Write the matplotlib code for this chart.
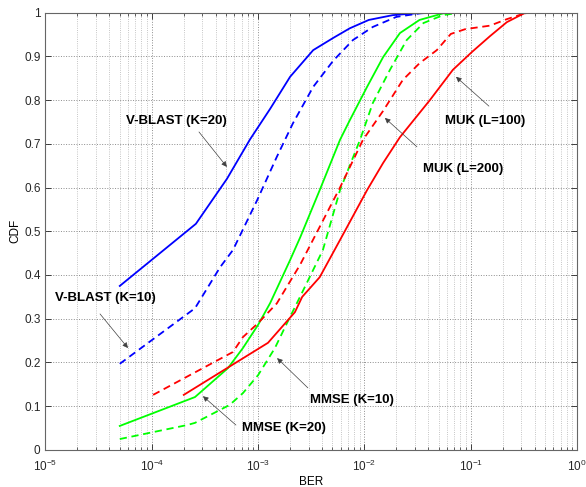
import numpy as np
import matplotlib
matplotlib.use("Agg")
import matplotlib.pyplot as plt
from matplotlib.ticker import LogLocator, NullFormatter, FixedLocator

plt.rcParams['font.family'] = ['Liberation Sans', 'DejaVu Sans']

# CDF curves of the BER (read per detector)
vblast20_ber = [5e-5, 2.6e-4, 5.1e-4, 8.4e-4, 1.3e-3, 2.0e-3, 3.3e-3, 5.1e-3,
                7.3e-3, 1.1e-2, 1.85e-2, 3e-2, 4.5e-2]
vblast20_cdf = [0.375, 0.517, 0.62, 0.71, 0.78, 0.853, 0.914, 0.942,
                0.964, 0.983, 0.994, 0.998, 1.0]

vblast10_ber = [5e-5, 2.55e-4, 4.4e-4, 5.8e-4, 9.8e-4, 1.5e-3, 2.13e-3, 3.3e-3,
                5.1e-3, 7.8e-3, 1.2e-2, 2e-2, 3.3e-2, 4.5e-2]
vblast10_cdf = [0.197, 0.324, 0.418, 0.457, 0.571, 0.67, 0.747, 0.83,
                0.89, 0.937, 0.967, 0.99, 0.998, 1.0]

mmse20_ber = [5e-5, 2.55e-4, 5.2e-4, 7.2e-4, 1e-3, 1.3e-3, 2.0e-3, 2.5e-3,
              3.8e-3, 5.9e-3, 7.3e-3, 1.06e-2, 1.5e-2, 2.16e-2, 3.3e-2, 5.5e-2, 7.9e-2]
mmse20_cdf = [0.055, 0.121, 0.187, 0.233, 0.286, 0.336, 0.434, 0.487,
              0.594, 0.709, 0.754, 0.83, 0.898, 0.953, 0.983, 0.998, 1.0]

mmse10_ber = [5e-5, 2.15e-4, 2.55e-4, 5.4e-4, 7.2e-4, 1e-3, 1.44e-3, 1.87e-3,
              2.48e-3, 4.07e-3, 5.9e-3, 9.1e-3, 1.2e-2, 1.74e-2,
              2.5e-2, 3.6e-2, 5.5e-2, 7.9e-2]
mmse10_cdf = [0.025, 0.057, 0.062, 0.103, 0.13, 0.171, 0.233, 0.29,
              0.35, 0.457, 0.594, 0.709, 0.793, 0.869,
              0.937, 0.976, 0.994, 1.0]

muk100_ber = [2e-4, 1.24e-3, 2.22e-3, 2.6e-3, 3.8e-3, 5.9e-3, 1.06e-2, 1.5e-2,
              2.16e-2, 4.14e-2, 6.8e-2, 0.103, 0.152, 0.219, 0.317, 0.38]
muk100_cdf = [0.126, 0.245, 0.315, 0.35, 0.395, 0.48, 0.594, 0.656,
              0.715, 0.80, 0.869, 0.91, 0.946, 0.978, 0.998, 1.0]

muk200_ber = [1.03e-4, 5.8e-4, 7.2e-4, 1e-3, 1.5e-3, 2.48e-3, 3.8e-3, 5.9e-3,
              9.7e-3, 1.5e-2, 2.3e-2, 3.3e-2, 4.8e-2, 6.5e-2, 8.9e-2,
              0.152, 0.22, 0.32, 0.38]
muk200_cdf = [0.126, 0.224, 0.258, 0.29, 0.335, 0.423, 0.51, 0.60,
              0.709, 0.775, 0.846, 0.884, 0.914, 0.951, 0.962,
              0.97, 0.985, 0.998, 1.0]

# label text, text position, arrow tail, arrow tip
labels = [
    ("V-BLAST (K=20)", (1.69e-4, 0.752), (2.78e-4, 0.727), (5.09e-4, 0.647)),
    ("V-BLAST (K=10)", (3.63e-5, 0.347), (3.26e-5, 0.311), (5.97e-5, 0.233)),
    ("MMSE (K=20)", (1.75e-3, 0.05), (6.19e-4, 0.057), (3.03e-4, 0.123)),
    ("MMSE (K=10)", (7.64e-3, 0.114), (2.94e-3, 0.142), (1.51e-3, 0.21)),
    ("MUK (L=100)", (0.136, 0.752), (0.1485, 0.786), (7.28e-2, 0.853)),
    ("MUK (L=200)", (8.45e-2, 0.642), (3.12e-2, 0.693), (1.56e-2, 0.759)),
]

fig = plt.figure(figsize=(5.86, 4.87), dpi=100)
ax = fig.add_axes([0.0776, 0.076, 0.9070, 0.8983])

lw = 1.3
dash = (4.0, 2.6)
ax.plot(vblast20_ber, vblast20_cdf, color='#0000ff', lw=lw)
ax.plot(vblast10_ber, vblast10_cdf, color='#0000ff', lw=lw, ls='--', dashes=dash)
ax.plot(mmse20_ber, mmse20_cdf, color='#00ff00', lw=lw)
ax.plot(mmse10_ber, mmse10_cdf, color='#00ff00', lw=lw, ls='--', dashes=dash)
ax.plot(muk100_ber, muk100_cdf, color='#ff0000', lw=lw)
ax.plot(muk200_ber, muk200_cdf, color='#ff0000', lw=lw, ls='--', dashes=dash)

ax.set_xscale('log')
ax.set_xlim(1e-5, 1)
ax.set_ylim(0, 1)
ax.xaxis.set_major_locator(LogLocator(base=10, numticks=10))
ax.xaxis.set_minor_locator(LogLocator(base=10, subs=np.arange(2, 10), numticks=20))
ax.xaxis.set_minor_formatter(NullFormatter())
yt = np.round(np.arange(0, 1.01, 0.1), 1)
ax.yaxis.set_major_locator(FixedLocator(yt))
ax.set_yticklabels(['0' if v == 0 else ('1' if v == 1 else f'{v:g}') for v in yt])

ax.grid(True, which='major', ls=':', color='0.55', lw=0.7)
ax.grid(True, which='minor', axis='x', ls=':', color='0.7', lw=0.6)
ax.tick_params(which='both', direction='in', top=True, right=True,
               labelsize=8.5, colors='0.15')
ax.tick_params(which='major', length=4, width=0.6)
ax.tick_params(which='minor', length=2, width=0.5)
ax.tick_params(axis='x', which='major', pad=6)
for sp in ax.spines.values():
    sp.set_color('0.4')
    sp.set_linewidth(0.8)

ax.set_xlabel('BER', fontsize=8.5, labelpad=2)
ax.set_ylabel('CDF', fontsize=8.5, labelpad=2)

for text, pos, tail, tip in labels:
    ax.text(pos[0], pos[1], text, ha='center', va='center',
            fontsize=9.5, fontweight='bold')
    ax.annotate('', xy=tip, xytext=tail,
                arrowprops=dict(arrowstyle='-|>', color='0.25', lw=0.5,
                                mutation_scale=8, shrinkA=0, shrinkB=0))

fig.savefig('out.png', dpi=100, facecolor='white')
